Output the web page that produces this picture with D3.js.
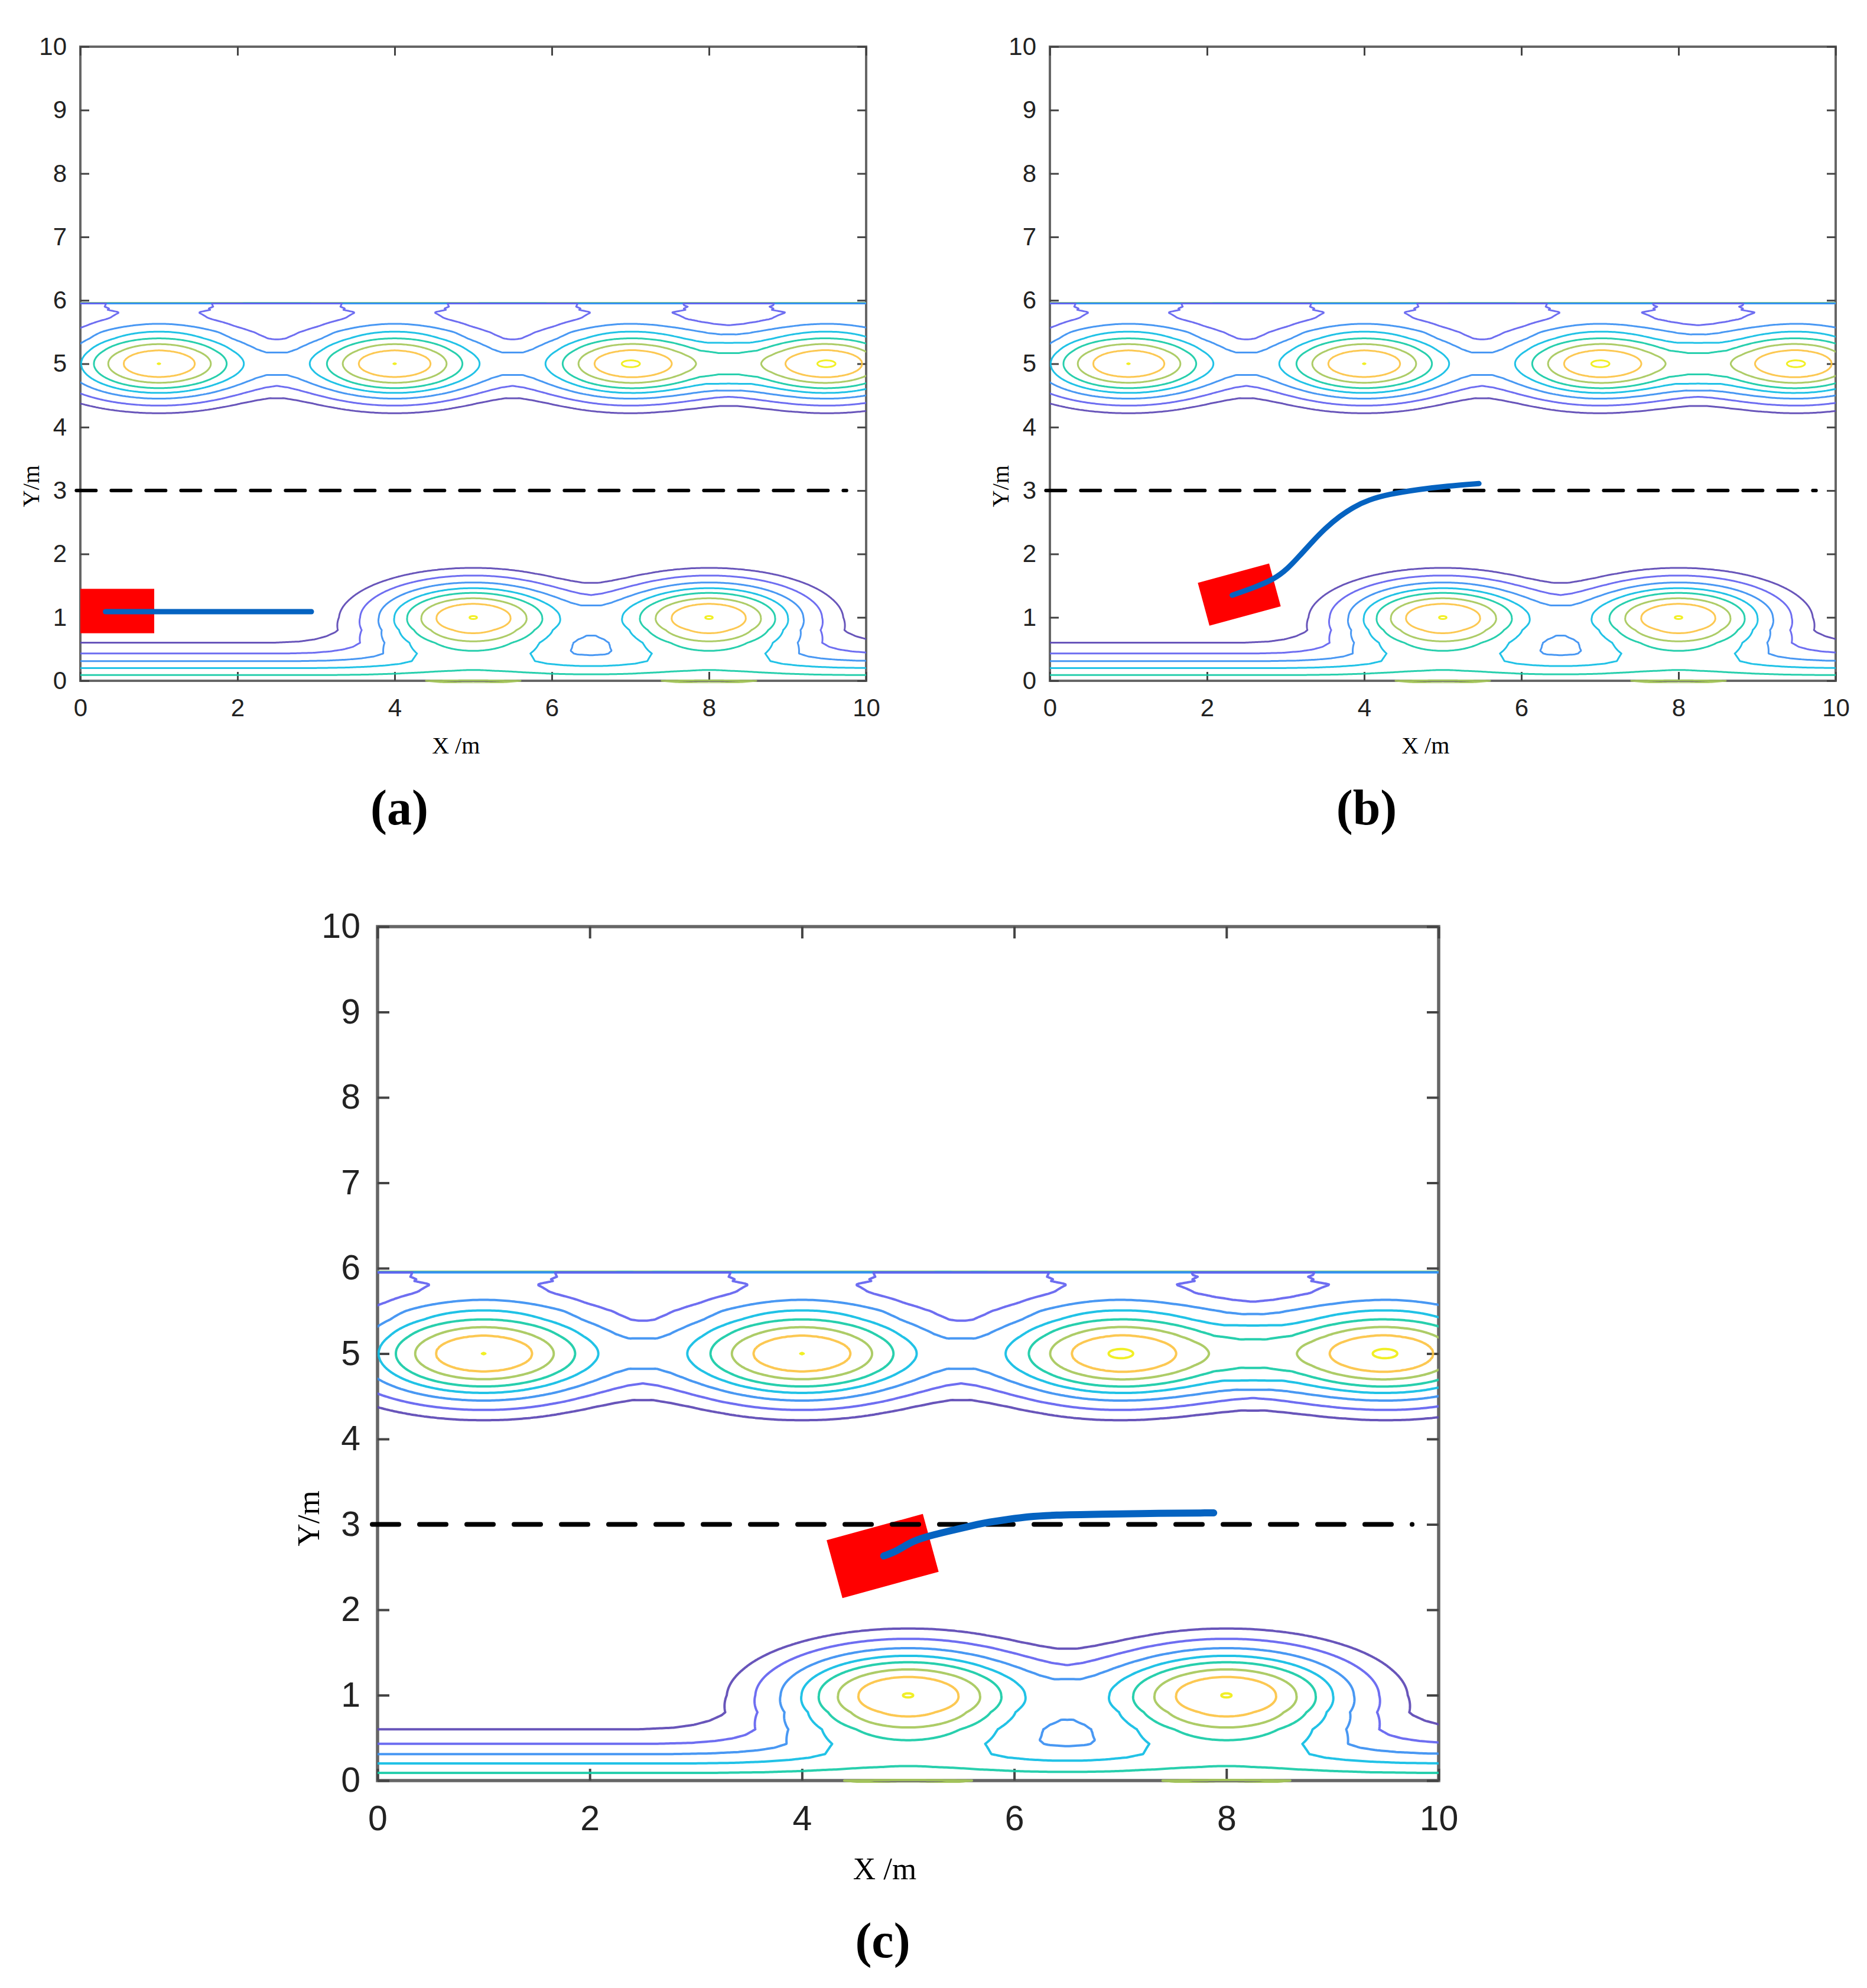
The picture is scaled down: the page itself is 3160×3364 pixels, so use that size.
<!DOCTYPE html>
<html>
<head>
<meta charset="utf-8">
<script src="https://cdn.jsdelivr.net/npm/d3@7"></script>
<style>
  body { margin: 0; background: #fff; }
  svg { display: block; }
  .tick text { fill: #222; font-family: "Liberation Sans", Arial, sans-serif; }
</style>
</head>
<body>
<svg id="fig" width="3160" height="3364"></svg>
<script>
// obstacle centres (m) and extra height at their centre
var obstacleX = [1, 4, 7, 9.5, 5, 8];
var obstacleY = [5, 5, 5, 5, 1, 1];
var obstaclePeak = [0, 0, 0.45, 0.45, 0, 0];

// radial profile of one obstacle, read from the ring spacing
var ringR = [0, 0.1, 0.21, 0.30, 0.385, 0.46, 0.55, 0.66, 0.78, 0.85, 0.92, 1.0, 1.1, 1.25];
var ringV = [8.04, 7.5, 7.0, 6.0, 5.0, 4.0, 3.0, 2.0, 1.0, 0.62, 0.38, 0.2, 0.07, 0];

// road edge potentials, lower edge (y = 0) and upper edge (y = 6)
var lowEdgeY = [0, 0.09, 0.2, 0.31, 0.43, 0.6, 0.8, 1.0, 1.3, 1.6];
var lowEdgeV = [5.85, 5, 4, 3, 2, 1, 0.25, 0.08, 0.02, 0];
var topEdgeY = [5.2, 5.4, 5.5, 5.6, 5.7, 5.8, 5.85, 5.9, 5.95, 5.957, 6.0];
var topEdgeV = [0, 0.2, 0.5, 0.65, 0.9, 1.3, 1.56, 1.7, 1.8, 9, 14];

var levels = [1, 2, 3, 4, 5, 6, 7, 8];
var levelColors = ["#5b46b4", "#6262f0", "#3a8ff2", "#0ebde4", "#16cba6", "#a6c85a", "#fcc343", "#f0ee14"];

var xTicks = [0, 2, 4, 6, 8, 10];
var yTicks = [0, 1, 2, 3, 4, 5, 6, 7, 8, 9, 10];

// desired lane (dashed)
var refLineY = 3;
var refLineX = [-0.05, 9.75];

// vehicle: centre, heading (deg), size in x-axis units
var vehicleX = [0.47, 2.41, 4.76];
var vehicleY = [1.10, 1.36, 2.63];
var vehicleHeading = [0, 15.2, 15.3];
var vehicleSize = [0.94, 0.565];

// planned paths
var pathA = [[0.32, 1.09], [2.94, 1.09]];
var pathB = [[2.32, 1.35], [2.60, 1.47], [2.85, 1.60], [3.02, 1.76], [3.17, 1.96], [3.33, 2.18],
             [3.50, 2.40], [3.69, 2.60], [3.88, 2.75], [4.05, 2.85], [4.30, 2.94], [4.70, 3.02],
             [5.05, 3.07], [5.46, 3.11]];
var pathC = [[4.77, 2.63], [4.90, 2.69], [5.02, 2.79], [5.15, 2.85], [5.38, 2.92], [5.55, 2.97],
             [5.72, 3.02], [5.95, 3.06], [6.12, 3.09], [6.37, 3.11], [6.80, 3.12], [7.37, 3.13],
             [7.88, 3.135]];

var panelNames = ["(a)", "(b)", "(c)"];

var panels = [
  {left: 136, top: 79, w: 1330, h: 1073, tickFs: 42, padX: 30, padY: 23, tickLen: 15, tickW: 3, frameW: 4,
   titleFs: 40, titleDy: 123, yTitleDx: 84, capDx: 540, capDy: 243, lineW: 3, pathW: 9, dashW: 6, dash: "33 26", path: pathA},
  {left: 1777, top: 79, w: 1330, h: 1073, tickFs: 42, padX: 30, padY: 23, tickLen: 15, tickW: 3, frameW: 4,
   titleFs: 40, titleDy: 123, yTitleDx: 84, capDx: 536, capDy: 243, lineW: 3, pathW: 9, dashW: 6, dash: "33 26", path: pathB},
  {left: 639, top: 1568, w: 1796, h: 1445, tickFs: 59, padX: 42, padY: 29, tickLen: 20, tickW: 4, frameW: 5.5,
   titleFs: 53, titleDy: 167, yTitleDx: 118, capDx: 855, capDy: 299, lineW: 4, pathW: 12, dashW: 8, dash: "45 35", path: pathC}
];

// potential field on a grid
var sx = 2.15;
var ring = d3.scaleLinear().domain(ringR).range(ringV).clamp(true);
var lowEdge = d3.scaleLinear().domain(lowEdgeY).range(lowEdgeV).clamp(true);
var topEdge = d3.scaleLinear().domain(topEdgeY).range(topEdgeV).clamp(true);

function field(px, py) {
  var v = lowEdge(py) + topEdge(py);
  for (var i = 0; i < obstacleX.length; i++) {
    var dx = (px - obstacleX[i]) / sx, dy = py - obstacleY[i];
    var r = Math.sqrt(dx * dx + dy * dy);
    if (r < 1.25) v += ring(r) + obstaclePeak[i] * Math.max(0, 1 - r / 0.1);
  }
  return v;
}

var gx0 = -0.4, gy0 = -0.4, gStepX = 0.02, gStepY = 0.01;
var nx = 541, ny = 1081;
var values = new Float64Array(nx * ny);
for (var j = 0; j < ny; j++) {
  for (var i = 0; i < nx; i++) {
    values[j * nx + i] = field(gx0 + i * gStepX, gy0 + j * gStepY);
  }
}
var isolines = d3.contours().size([nx, ny]).thresholds(levels)(values);

var svg = d3.select("#fig");

panels.forEach(function(p, k) {
  var x = d3.scaleLinear().domain([0, 10]).range([0, p.w]);
  var y = d3.scaleLinear().domain([0, 10]).range([p.h, 0]);
  var g = svg.append("g").attr("transform", "translate(" + p.left + "," + p.top + ")");

  // axes box and inward ticks
  g.append("rect").attr("width", p.w).attr("height", p.h)
    .attr("fill", "none").attr("stroke", "#666").attr("stroke-width", p.frameW);

  var axes = [
    [d3.axisBottom(x).tickValues(xTicks).tickPadding(p.padX), "translate(0," + p.h + ")"],
    [d3.axisTop(x).tickValues(xTicks).tickFormat(""), "translate(0,0)"],
    [d3.axisLeft(y).tickValues(yTicks).tickPadding(p.padY), "translate(0,0)"],
    [d3.axisRight(y).tickValues(yTicks).tickFormat(""), "translate(" + p.w + ",0)"]
  ];
  axes.forEach(function(a) {
    var ax = g.append("g").attr("transform", a[1])
      .call(a[0].tickSizeInner(-p.tickLen).tickSizeOuter(0));
    ax.select(".domain").remove();
    ax.selectAll(".tick line").attr("stroke", "#444").attr("stroke-width", p.tickW);
    ax.selectAll(".tick text").style("font-size", p.tickFs + "px");
  });

  // contour lines
  var clipId = "clip" + k;
  g.append("clipPath").attr("id", clipId)
    .append("rect").attr("x", 0).attr("y", 0).attr("width", p.w).attr("height", p.h + 4);

  var proj = d3.geoTransform({
    point: function(gx, gy) {
      this.stream.point(x(gx0 + (gx - 0.5) * gStepX), y(gy0 + (gy - 0.5) * gStepY));
    }
  });
  var geo = d3.geoPath(proj);
  g.append("g").attr("clip-path", "url(#" + clipId + ")")
    .selectAll("path")
    .data(isolines.slice().reverse())
    .join("path")
    .attr("d", geo)
    .attr("fill", "none")
    .attr("stroke", function(d) { return levelColors[levels.indexOf(d.value)]; })
    .attr("stroke-width", p.lineW)
    .attr("stroke-linejoin", "round")
    .attr("opacity", 0.92);

  // vehicle
  var kx = x(1) - x(0);
  g.append("rect")
    .attr("x", -vehicleSize[0] * kx / 2).attr("y", -vehicleSize[1] * kx / 2)
    .attr("width", vehicleSize[0] * kx).attr("height", vehicleSize[1] * kx)
    .attr("transform", "translate(" + x(vehicleX[k]) + "," + y(vehicleY[k]) + ") rotate(" + (-vehicleHeading[k]) + ")")
    .attr("fill", "#ff0000");

  // dashed reference lane
  g.append("line")
    .attr("x1", x(refLineX[0])).attr("x2", x(refLineX[1]))
    .attr("y1", y(refLineY)).attr("y2", y(refLineY))
    .attr("stroke", "#000").attr("stroke-width", p.dashW)
    .attr("stroke-dasharray", p.dash).attr("stroke-linecap", "round");

  // planned path
  var line = d3.line()
    .curve(d3.curveBasis)
    .x(function(d) { return x(d[0]); })
    .y(function(d) { return y(d[1]); });
  g.append("path").datum(p.path)
    .attr("d", line)
    .attr("fill", "none").attr("stroke", "#0563c1")
    .attr("stroke-width", p.pathW).attr("stroke-linecap", "round");

  // axis titles and caption
  g.append("text")
    .attr("x", p.w * 0.478).attr("y", p.h + p.titleDy)
    .attr("text-anchor", "middle")
    .style("font-family", "'Liberation Serif', 'Times New Roman', serif")
    .style("font-size", p.titleFs + "px")
    .text("X /m");

  g.append("text")
    .attr("transform", "translate(" + (-p.yTitleDx) + "," + y(3.07) + ") rotate(-90)")
    .attr("text-anchor", "middle").attr("dy", "0.35em")
    .style("font-family", "'Liberation Serif', 'Times New Roman', serif")
    .style("font-size", p.titleFs + "px")
    .text("Y/m");

  g.append("text")
    .attr("x", p.capDx).attr("y", p.h + p.capDy)
    .attr("text-anchor", "middle")
    .style("font-family", "'Liberation Serif', 'Times New Roman', serif")
    .style("font-weight", "bold")
    .style("font-size", "84px")
    .text(panelNames[k]);
});
</script>
</body>
</html>
